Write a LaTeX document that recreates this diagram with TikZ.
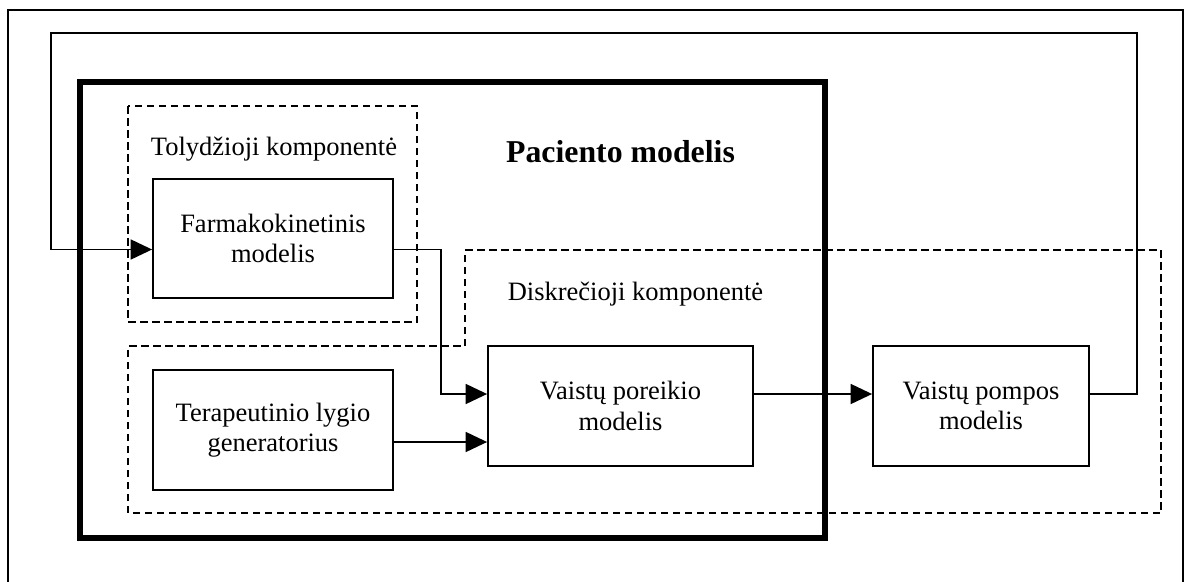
\documentclass[tikz,border=0pt]{standalone}
\usepackage{fontspec}
\setmainfont{Liberation Serif}
\usetikzlibrary{arrows.meta}
\begin{document}
\begin{tikzpicture}[x=1pt,y=-1pt,
  thinline/.style={line width=1.8pt},
  frameline/.style={line width=1.8pt},
  thickline/.style={line width=5.6pt},
  dashline/.style={line width=1.6pt, dash pattern=on 7.5pt off 4.5pt},
  block/.style={draw, thinline, rectangle, inner sep=0pt, align=center,
    font=\fontsize{26.5}{30.5}\selectfont},
  lbl/.style={inner sep=0pt, anchor=base, font=\fontsize{26.5}{30.5}\selectfont},
  arr/.style={thinline, -{Triangle[length=21.5pt,width=20pt]}},
  conn/.style={thinline}]
\useasboundingbox (0,0) rectangle (1186,581);

% outer frame
\draw[frameline] (8,10) rectangle (1183,586);

% patient model (thick frame)
\draw[thickline] (80,82) rectangle (825,538);
\node[inner sep=0pt, anchor=base, font=\fontsize{31.8}{36}\selectfont\bfseries]
  (ptitle) at (620.5,162) {Paciento modelis};

% continuous component
\draw[dashline] (128,106) rectangle (417,322);
\node[lbl] (tlabel) at (274,155) {Tolydžioji komponentė};

% discrete component
\draw[dashline] (465,250) -- (1161,250) -- (1161,513) -- (128,513)
  -- (128,346) -- (465,346) -- cycle;
\node[lbl] (dlabel) at (635.5,300) {Diskrečioji komponentė};

% blocks
\node[block, minimum width=240pt, minimum height=119pt] (farm) at (273,238.5)
  {Farmakokinetinis\\modelis};
\node[block, minimum width=240pt, minimum height=120pt] (terap) at (273,430)
  {Terapeutinio lygio\\generatorius};
\node[block, minimum width=265pt, minimum height=120pt] (poreik) at (620.5,406)
  {Vaistų poreikio\\modelis};
\node[block, minimum width=216pt, minimum height=120pt] (pompa) at (981,406)
  {Vaistų pompos\\modelis};

% connector routing points
\coordinate (fout) at (441,249.5);
\coordinate (fdown) at (441,394);
\coordinate (tline) at (420,442);
\coordinate (pline) at (800,394);
\coordinate (fbR) at (1137,394);
\coordinate (fbTR) at (1137,33);
\coordinate (fbTL) at (51,33);
\coordinate (fbL) at (51,249.5);

% connectors
\draw[arr] (fout -| farm.east) -- (fout) -- (fdown) -- (fdown -| poreik.west);
\draw[arr] (tline -| terap.east) -- (tline -| poreik.west);
\draw[arr] (pline -| poreik.east) -- (pline -| pompa.west);
\draw[arr] (fbR -| pompa.east) -- (fbR) -- (fbTR) -- (fbTL) -- (fbL)
  -- (fbL -| farm.west);
\end{tikzpicture}
\end{document}
